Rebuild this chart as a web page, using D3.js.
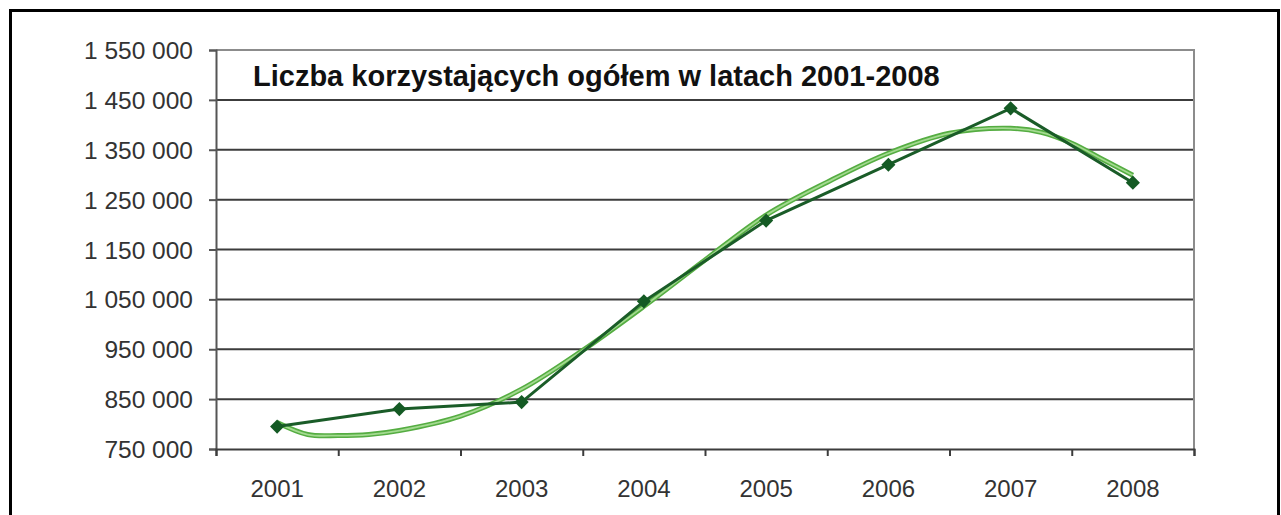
<!DOCTYPE html>
<html>
<head>
<meta charset="utf-8">
<style>
  body { margin: 0; background: #fff; }
  svg { display: block; }
  .tick text { font-family: "Liberation Sans", Arial, sans-serif; fill: #333; }
  .title { font-family: "Liberation Sans", Arial, sans-serif; font-weight: bold; fill: #111; }
</style>
</head>
<body>
<svg width="1281" height="515"></svg>
<script src="https://d3js.org/d3.v7.min.js"></script>
<script>

// data
var years = [2001, 2002, 2003, 2004, 2005, 2006, 2007, 2008];
var users = [795000, 830000, 844000, 1046000, 1208000, 1320000, 1433000, 1284000];

// trend line (light green) at these positions
var trendYears = [2001, 2001.25, 2001.5, 2001.75, 2002, 2002.5, 2003, 2003.5, 2004, 2004.5,
                  2005, 2005.5, 2006, 2006.5, 2007, 2007.25, 2007.5, 2007.75, 2008];
var trendValues = [803000, 779000, 777000, 779000, 787000, 816000, 870000, 948000, 1036000, 1129000,
                   1219000, 1285000, 1343000, 1383000, 1393000, 1385000, 1363000, 1331000, 1299000];

var yTicks = [750000, 850000, 950000, 1050000, 1150000, 1250000, 1350000, 1450000, 1550000];
var title = "Liczba korzystających ogółem w latach 2001-2008";

var svg = d3.select("svg"),
    width = +svg.attr("width"),
    height = +svg.attr("height");

var plot = {left: 216, right: 1194, top: 50, bottom: 449};

var x = d3.scaleBand()
    .domain(years)
    .range([plot.left, plot.right]);

// continuous version of the same x scale, for the trend line
var xLin = d3.scaleLinear()
    .domain([years[0] - 0.5, years[years.length - 1] + 0.5])
    .range([plot.left, plot.right]);

var y = d3.scaleLinear()
    .domain([750000, 1550000])
    .range([plot.bottom, plot.top]);

var fmt = function(d) { return d3.format(",")(d).replace(/,/g, " "); };

// outer frame
svg.append("rect")
    .attr("x", 10.5)
    .attr("y", 10.5)
    .attr("width", 1268)
    .attr("height", 540)
    .attr("fill", "none")
    .attr("stroke", "#000")
    .attr("stroke-width", 3);

// gridlines
svg.append("g")
    .selectAll("line")
    .data(yTicks.slice(1, -1))
    .enter().append("line")
    .attr("x1", plot.left)
    .attr("x2", plot.right)
    .attr("y1", function(d) { return y(d); })
    .attr("y2", function(d) { return y(d); })
    .attr("stroke", "#3c3c3c")
    .attr("stroke-width", 2);

// plot border top + right
svg.append("path")
    .attr("d", "M" + plot.left + "," + plot.top + "H" + plot.right + "V" + plot.bottom)
    .attr("fill", "none")
    .attr("stroke", "#8c8c8c")
    .attr("stroke-width", 2);

// y axis
var yAxis = svg.append("g")
    .attr("transform", "translate(" + plot.left + ",0)")
    .call(d3.axisLeft(y).tickValues(yTicks).tickSize(7).tickPadding(16).tickFormat(fmt));
yAxis.selectAll("line, path").attr("stroke", "#555").attr("stroke-width", 2);
yAxis.selectAll("text").style("font-size", "24.5px").attr("dy", "0.35em");

// x axis: tick marks between categories
var xTickAxis = svg.append("g")
    .attr("transform", "translate(0," + plot.bottom + ")")
    .call(d3.axisBottom(xLin)
        .tickValues(d3.range(years[0] - 0.5, years[years.length - 1] + 1, 1))
        .tickSize(7)
        .tickFormat(""));
xTickAxis.selectAll("line, path").attr("stroke", "#3c3c3c").attr("stroke-width", 2);

// x axis labels
var xAxis = svg.append("g")
    .attr("transform", "translate(0," + plot.bottom + ")")
    .call(d3.axisBottom(x).tickSize(0).tickPadding(31));
xAxis.select(".domain").remove();
xAxis.selectAll("text").style("font-size", "24px");

// title
svg.append("text")
    .attr("class", "title")
    .attr("x", 253)
    .attr("y", 86)
    .style("font-size", "29px")
    .text(title);

// trend line
var trendLine = d3.line()
    .x(function(d, i) { return xLin(trendYears[i]); })
    .y(function(d) { return y(d); })
    .curve(d3.curveCatmullRom);

svg.append("path")
    .datum(trendValues)
    .attr("d", trendLine)
    .attr("fill", "none")
    .attr("stroke", "#55ad42")
    .attr("stroke-width", 5);

svg.append("path")
    .datum(trendValues)
    .attr("d", trendLine)
    .attr("fill", "none")
    .attr("stroke", "#a3da90")
    .attr("stroke-width", 1.8);

// data line
var line = d3.line()
    .x(function(d, i) { return x(years[i]) + x.bandwidth() / 2; })
    .y(function(d) { return y(d); });

svg.append("path")
    .datum(users)
    .attr("d", line)
    .attr("fill", "none")
    .attr("stroke", "#1a5c28")
    .attr("stroke-width", 3);

// diamond markers (rotated squares)
svg.append("g")
    .selectAll("path")
    .data(users)
    .enter().append("path")
    .attr("d", d3.symbol().type(d3.symbolSquare).size(100))
    .attr("transform", function(d, i) {
        return "translate(" + (x(years[i]) + x.bandwidth() / 2) + "," + y(d) + ") rotate(45)";
    })
    .attr("fill", "#145a24");

</script>
</body>
</html>
